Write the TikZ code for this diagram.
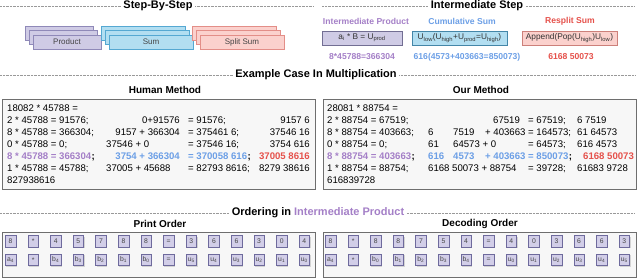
\documentclass[tikz,border=0pt]{standalone}
\usepackage{fontspec}
\setmainfont{Liberation Sans}
\usetikzlibrary{shadows}
\definecolor{prodfill}{HTML}{CFCBE5}
\definecolor{prodline}{HTML}{8F89B8}
\definecolor{sumfill}{HTML}{B2DEF1}
\definecolor{sumline}{HTML}{55A8D2}
\definecolor{splitfill}{HTML}{FBD1CD}
\definecolor{splitline}{HTML}{E38E88}
\definecolor{ptxt}{HTML}{A47FC7}
\definecolor{btxt}{HTML}{6C9FE6}
\definecolor{rtxt}{HTML}{E5514B}
\definecolor{boxline}{HTML}{6E6E6E}
\definecolor{boxfill}{HTML}{F7F7F7}
\definecolor{sqfill}{HTML}{D2CEE8}
\definecolor{sqline}{HTML}{6E6A9C}
\definecolor{dimtxt}{HTML}{444444}
\begin{document}
\begin{tikzpicture}[x=1pt,y=-1pt,
  sectitle/.style={font=\fontsize{11}{13}\selectfont\bfseries, inner sep=2.5pt},
  subtitle/.style={font=\fontsize{10}{12}\selectfont\bfseries, inner sep=0pt},
  sepline/.style={draw=gray!80, line width=0.5pt, dash pattern=on 0.7pt off 0.7pt},
  stackbox/.style={draw, line width=0.6pt, minimum height=14, inner sep=0pt,
    font=\fontsize{8}{10}\selectfont, text=dimtxt,
    drop shadow={shadow xshift=0.8pt, shadow yshift=-0.8pt, fill=gray!45}},
  steplab/.style={font=\fontsize{8.6}{10}\selectfont\bfseries, inner sep=0pt},
  stepval/.style={font=\fontsize{8.6}{10}\selectfont\bfseries, inner sep=0pt},
  opbox/.style={draw, line width=0.7pt, minimum height=14, inner sep=0pt,
    font=\fontsize{8.3}{9}\selectfont, text=black!80,
    drop shadow={shadow xshift=1pt, shadow yshift=-1pt, fill=gray!55}},
  bigbox/.style={draw=boxline, fill=boxfill, line width=0.9pt, inner sep=0pt,
    drop shadow={shadow xshift=1.2pt, shadow yshift=-1.2pt, fill=gray!50}},
  ln/.style={font=\fontsize{9.6}{12}\selectfont, inner sep=0pt, anchor=base west},
  lnr/.style={font=\fontsize{9.6}{12}\selectfont, inner sep=0pt, anchor=base east},
  lnb/.style={ln, font=\fontsize{9.6}{12}\selectfont\bfseries},
  lnbr/.style={lnr, font=\fontsize{9.6}{12}\selectfont\bfseries},
  sq/.style={draw=sqline, fill=sqfill, line width=0.5pt, minimum width=10.5,
    minimum height=11.5, inner sep=0pt, font=\fontsize{6.8}{8}\selectfont, text=dimtxt,
    drop shadow={shadow xshift=1pt, shadow yshift=-1pt, fill=gray!60}}
]
\useasboundingbox (0,0) rectangle (640,280);

% ---------- section titles ----------
\node[sectitle] (t1) at (158,6) {Step-By-Step};
\node[sectitle] (t2) at (477,6) {Intermediate Step};
\node[sectitle] (t3) at (316,75) {Example Case In Multiplication};
\node[sectitle] (t4) at (318,213) {Ordering in \textcolor{ptxt}{Intermediate Product}};
\coordinate (s1a) at (0,6);   \coordinate (s1b) at (313,6);
\coordinate (s2a) at (322,6); \coordinate (s2b) at (635,6);
\coordinate (s3a) at (0,75);  \coordinate (s3b) at (635,75);
\coordinate (s4a) at (0,213); \coordinate (s4b) at (635,213);
\draw[sepline] (s1a) -- (t1.west) (t1.east) -- (s1b);
\draw[sepline] (s2a) -- (t2.west) (t2.east) -- (s2b);
\draw[sepline] (s3a) -- (t3.west) (t3.east) -- (s3b);
\draw[sepline] (s4a) -- (t4.west) (t4.east) -- (s4b);

% ---------- step-by-step stacks ----------
\node[stackbox, draw=prodline, fill=prodfill, minimum width=68] (pr3) at (59,33) {};
\node[stackbox, draw=prodline, fill=prodfill, minimum width=68] (pr2) at (63,37.5) {};
\node[stackbox, draw=prodline, fill=prodfill, minimum width=68] (pr1) at (67,42) {Product};
\node[stackbox, draw=sumline, fill=sumfill, minimum width=84] (su3) at (143,33) {};
\node[stackbox, draw=sumline, fill=sumfill, minimum width=84] (su2) at (147,37.5) {};
\node[stackbox, draw=sumline, fill=sumfill, minimum width=84] (su1) at (151,42) {Sum};
\node[stackbox, draw=splitline, fill=splitfill, minimum width=84] (sp3) at (234,33) {};
\node[stackbox, draw=splitline, fill=splitfill, minimum width=84] (sp2) at (238,37.5) {};
\node[stackbox, draw=splitline, fill=splitfill, minimum width=84] (sp1) at (242,42) {Split Sum};

% ---------- intermediate step ----------
\node[steplab, text=ptxt] (ip) at (366,21) {Intermediate Product};
\node[steplab, text=btxt] (cs) at (462,21) {Cumulative Sum};
\node[steplab, text=rtxt] (rs) at (570,21) {Resplit Sum};
\node[opbox, draw=prodline!80!black, fill=prodfill, minimum width=80] (ob1) at (362,38)
  {a\textsubscript{i} * B = U\textsubscript{prod}};
\node[opbox, draw=sumline!80!black, fill=sumfill, minimum width=95] (ob2) at (459.5,38)
  {U\textsubscript{low}(U\textsubscript{high}+U\textsubscript{prod}=U\textsubscript{high})};
\node[opbox, draw=splitline!90!black, fill=splitfill, minimum width=95] (ob3) at (569.5,38)
  {Append(Pop(U\textsubscript{high})U\textsubscript{low})};
\node[stepval, text=ptxt] (v1) at (362,57) {8*45788=366304};
\node[stepval, text=btxt] (v2) at (467,57) {616(4573+403663=850073)};
\node[stepval, text=rtxt] (v3) at (571,57) {6168 50073};

% ---------- example case ----------
\node[subtitle] (hm) at (165,90) {Human Method};
\node[subtitle] (om) at (481,90) {Our Method};
\node[bigbox, minimum width=313, minimum height=90] (hbox) at (158.5,144) {};
\node[bigbox, minimum width=313, minimum height=90] (obox) at (479.5,144) {};

% human method lines
\node[ln] (h1) at (7,111.5) {18082 * 45788 =};
\node[ln] (h2a) at (7,123.5) {2 * 45788 = 91576;};
\node[lnr] (h2b) at (180,123.5) {0+91576};
\node[ln] (h2c) at (188,123.5) {= 91576;};
\node[lnr] (h2d) at (310,123.5) {9157 6};
\node[ln] (h3a) at (7,135.5) {8 * 45788 = 366304;};
\node[lnr] (h3b) at (180,135.5) {9157 + 366304};
\node[ln] (h3c) at (188,135.5) {= 375461 6;};
\node[lnr] (h3d) at (310,135.5) {37546 16};
\node[ln] (h4a) at (7,147.5) {0 * 45788 = 0;};
\node[ln] (h4b) at (106,147.5) {37546 + 0};
\node[ln] (h4c) at (188,147.5) {= 37546 16;};
\node[lnr] (h4d) at (310,147.5) {3754 616};
\node[lnb, text=ptxt] (h5a) at (7,159.5) {8 * 45788 = 366304};
\node[lnb] (h5s) at (h5a.base east) {;};
\node[lnbr, text=btxt] (h5b) at (180,159.5) {3754 + 366304};
\node[lnb, text=btxt] (h5c) at (188,159.5) {= 370058 616};
\node[lnb] (h5t) at (h5c.base east) {;};
\node[lnbr, text=rtxt] (h5d) at (310,159.5) {37005 8616};
\node[ln] (h6a) at (7,171.5) {1 * 45788 = 45788;};
\node[ln] (h6b) at (106,171.5) {37005 + 45688};
\node[ln] (h6c) at (188,171.5) {= 82793 8616;};
\node[lnr] (h6d) at (310,171.5) {8279 38616};
\node[ln] (h7) at (7,183.5) {827938616};

% our method lines
\node[ln] (o1) at (327,111.5) {28081 * 88754 =};
\node[ln] (o2a) at (327,123.5) {2 * 88754 = 67519;};
\node[ln] (o2b) at (493,123.5) {67519};
\node[ln] (o2c) at (528,123.5) {= 67519;};
\node[ln] (o2d) at (577,123.5) {6 7519};
\node[ln] (o3a) at (327,135.5) {8 * 88754 = 403663;};
\node[ln] (o3b) at (428,135.5) {6};
\node[ln] (o3c) at (453,135.5) {7519};
\node[ln] (o3d) at (485,135.5) {+ 403663 = 164573;};
\node[ln] (o3e) at (577,135.5) {61 64573};
\node[ln] (o4a) at (327,147.5) {0 * 88754 = 0;};
\node[ln] (o4b) at (428,147.5) {61};
\node[ln] (o4c) at (453,147.5) {64573 + 0};
\node[ln] (o4d) at (528,147.5) {= 64573;};
\node[ln] (o4e) at (577,147.5) {616 4573};
\node[lnb, text=ptxt] (o5a) at (327,159.5) {8 * 88754 = 403663};
\node[lnb] (o5s) at (o5a.base east) {;};
\node[lnb, text=btxt] (o5b) at (428,159.5) {616};
\node[lnb, text=btxt] (o5c) at (453,159.5) {4573};
\node[lnb, text=btxt] (o5d) at (485,159.5) {+ 403663 = 850073};
\node[lnb] (o5t) at (o5d.base east) {;};
\node[lnb, text=rtxt] (o5e) at (583,159.5) {6168 50073};
\node[ln] (o6a) at (327,171.5) {1 * 88754 = 88754;};
\node[ln] (o6b) at (428,171.5) {6168 50073 + 88754};
\node[ln] (o6c) at (528,171.5) {= 39728;};
\node[ln] (o6d) at (577,171.5) {61683 9728};
\node[ln] (o7) at (327,183.5) {616839728};

% ---------- ordering ----------
\node[subtitle] (po) at (160,224) {Print Order};
\node[subtitle] (do) at (480,224) {Decoding Order};
\node[bigbox, minimum width=313, minimum height=45] (pbox) at (158.5,254.5) {};
\node[bigbox, minimum width=313, minimum height=45] (dbox) at (479.5,254.5) {};

\foreach \v [count=\i from 0] in {8,*,4,5,7,8,8,=,3,6,6,3,0,4}
  \node[sq] (pa\i) at (10.5+22.6*\i,241.5) {\v};
\foreach \v [count=\i from 0] in {a\textsubscript{4},*,b\textsubscript{4},b\textsubscript{3},b\textsubscript{2},b\textsubscript{1},b\textsubscript{0},=,u\textsubscript{5},u\textsubscript{4},u\textsubscript{3},u\textsubscript{2},u\textsubscript{1},u\textsubscript{0}}
  \node[sq] (pb\i) at (10.5+22.6*\i,260) {\v};
\foreach \v [count=\i from 0] in {8,*,8,8,7,5,4,=,4,0,3,6,6,3}
  \node[sq] (da\i) at (330.5+22.6*\i,241.5) {\v};
\foreach \v [count=\i from 0] in {a\textsubscript{4},*,b\textsubscript{0},b\textsubscript{1},b\textsubscript{2},b\textsubscript{3},b\textsubscript{4},=,u\textsubscript{0},u\textsubscript{1},u\textsubscript{2},u\textsubscript{3},u\textsubscript{4},u\textsubscript{5}}
  \node[sq] (db\i) at (330.5+22.6*\i,260) {\v};
\end{tikzpicture}
\end{document}
